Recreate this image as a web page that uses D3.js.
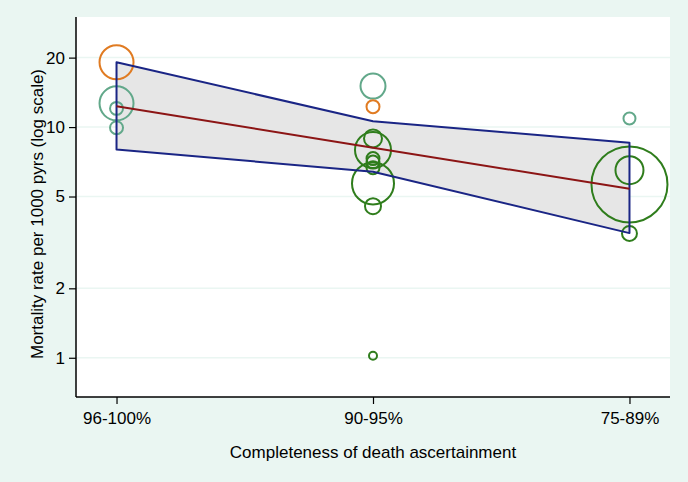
<!DOCTYPE html>
<html><head><meta charset="utf-8">
<script src="https://cdn.jsdelivr.net/npm/d3@7"></script>
<style>
body{margin:0;background:#eaf6f2;}
svg{display:block;}
text{font-family:"Liberation Sans",Arial,Helvetica,sans-serif;fill:#000;}
</style></head>
<body><svg id="c" width="688" height="482"></svg>
<script>
// ---- data ----
const categories = ["96-100%", "90-95%", "75-89%"];
const yTicks = [1, 2, 5, 10, 20];
const fitted = [12.3, 8.14, 5.4];
const bandUpper = [19.1, 10.6, 8.56];
const bandLower = [8.0, 6.4, 3.47];
// study points: category index, rate, weight (marker area), group
const pointCat    = [0, 0, 0, 0,   1, 1, 1, 1, 1, 1, 1, 1, 1, 1,   2, 2, 2, 2];
const pointRate   = [19.1, 12.67, 12.05, 9.94,
                     15.05, 12.26, 8.93, 7.95, 7.3, 7.05, 6.67, 5.70, 4.54, 1.02,
                     10.9, 5.64, 6.5, 3.46];
const pointWeight = [289, 289, 42, 42,
                     156, 42, 81, 324, 42, 42, 42, 441, 64, 16,
                     36, 1444, 196, 56];
const pointGroup  = ["B", "A", "A", "A",
                     "A", "B", "C", "C", "C", "C", "C", "C", "C", "C",
                     "A", "C", "C", "C"];
const groupColor = {A: "#62a88a", B: "#e07b22", C: "#2f7d1c"};

// ---- layout ----
const svg = d3.select("#c");
const L = 76, R = 670, T = 17, B = 397;
const x = d3.scalePoint().domain(categories).range([L, R]).padding(0.158);
const y = d3.scaleLog().domain([0.676, 30.0]).range([B, T]);
const r = d3.scaleSqrt().domain([0, 1444]).range([0, 38]);

svg.append("rect").attr("width", 688).attr("height", 482).attr("fill", "#eaf6f2");
svg.append("rect").attr("x", L).attr("y", T).attr("width", R - L).attr("height", B - T).attr("fill", "#fff");

// gridlines
svg.append("g").selectAll("line").data(yTicks).join("line")
  .attr("x1", L).attr("x2", R).attr("y1", d => y(d)).attr("y2", d => y(d))
  .attr("stroke", "#eaf6f2").attr("stroke-width", 1.5);

// band
const bandPts = categories.map((c, i) => [x(c), y(bandUpper[i])])
  .concat(categories.map((c, i) => [x(c), y(bandLower[i])]).reverse());
svg.append("path").attr("d", d3.line()(bandPts) + "Z")
  .attr("fill", "#e6e6e6").attr("stroke", "none");

// points
const pts = pointRate.map((v, i) => ({c: categories[pointCat[i]], v, w: pointWeight[i], g: pointGroup[i]}));
svg.append("g").selectAll("circle").data(pts).join("circle")
  .attr("cx", d => x(d.c)).attr("cy", d => y(d.v)).attr("r", d => r(d.w))
  .attr("fill", "none").attr("stroke", d => groupColor[d.g]).attr("stroke-width", 2);

// band outline
svg.append("path").attr("d", d3.line()(bandPts) + "Z")
  .attr("fill", "none").attr("stroke", "#1a2585").attr("stroke-width", 2).attr("stroke-linejoin", "round");

// fitted line
svg.append("path").attr("d", d3.line()(categories.map((c, i) => [x(c), y(fitted[i])])))
  .attr("fill", "none").attr("stroke", "#8c1515").attr("stroke-width", 2);

// axes
const yAxis = d3.axisLeft(y).tickValues(yTicks).tickFormat(d3.format("d")).tickSizeOuter(0).tickSize(7).tickPadding(4);
const gy = svg.append("g").attr("transform", `translate(${L},0)`).call(yAxis);
const xAxis = d3.axisBottom(x).tickSizeOuter(0).tickSize(7).tickPadding(8);
const gx = svg.append("g").attr("transform", `translate(0,${B})`).call(xAxis);
[gy, gx].forEach(g => {
  g.select(".domain").attr("stroke", "#000").attr("stroke-width", 1.5);
  g.selectAll(".tick line").attr("stroke", "#000").attr("stroke-width", 1.2);
  g.selectAll(".tick text").attr("font-size", 17).attr("font-family", "Liberation Sans, Arial, sans-serif").attr("fill", "#000");
});
gy.select(".domain").attr("d", `M0,${T}V${B}`);
gx.select(".domain").attr("d", `M${L},0H${R}`);

// titles
svg.append("text").attr("x", (L + R) / 2).attr("y", 458).attr("text-anchor", "middle")
  .attr("font-size", 17).text("Completeness of death ascertainment");
svg.append("text").attr("transform", `translate(37,${(T + B) / 2 + 7}) rotate(-90)`)
  .attr("text-anchor", "middle").attr("dy", "0.35em").attr("font-size", 17)
  .text("Mortality rate per 1000 pyrs (log scale)");
</script></body></html>
